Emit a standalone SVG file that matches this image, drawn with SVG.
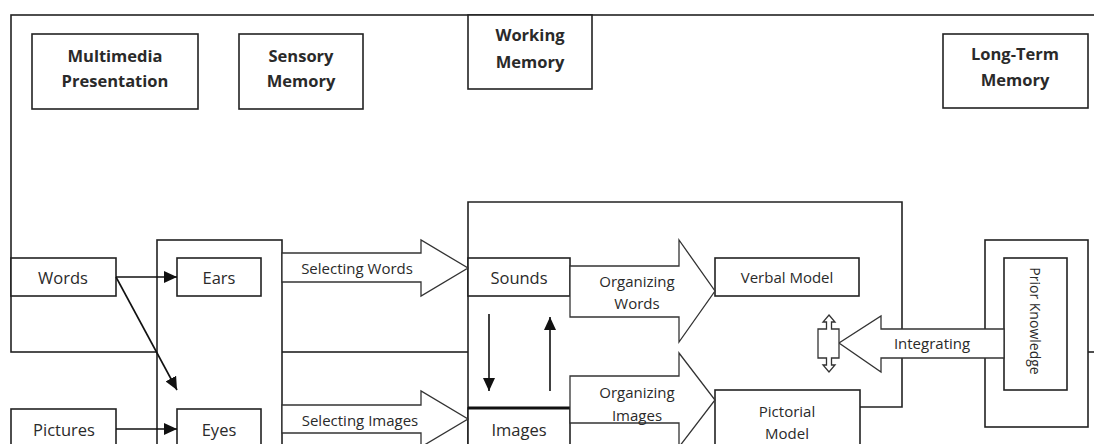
<svg xmlns="http://www.w3.org/2000/svg" width="1094" height="444" viewBox="0 0 1094 444">
<defs>
<style>
.bx{fill:#fff;stroke:#222;stroke-width:1.6}
.fr{fill:none;stroke:#222;stroke-width:1.6}
.ln{fill:none;stroke:#111;stroke-width:1.6}
.ba{fill:#fff;stroke:#333;stroke-width:1.3}
text{font-family:"Open Sans","Noto Sans","Liberation Sans",sans-serif;fill:#2a2a2a;text-anchor:middle;dominant-baseline:central}
.hd{font-weight:bold;font-size:16.5px}
.lb{font-size:16.5px}
.sm{font-size:15px}
</style>
<marker id="ah" markerUnits="userSpaceOnUse" markerWidth="13" markerHeight="12" refX="13" refY="6" orient="auto">
<path d="M0,0 L13,6 L0,12 z" fill="#111"/>
</marker>
</defs>
<rect x="0" y="0" width="1094" height="444" fill="#fff"/>

<g id="frame">
<rect class="fr" x="11" y="15" width="1100" height="337"/>
</g>

<g id="hdr-multimedia">
<rect class="bx" x="32" y="34" width="166" height="75"/>
<text class="hd" x="115" y="55">Multimedia</text>
<text class="hd" x="115" y="80">Presentation</text>
</g>
<g id="hdr-sensory">
<rect class="bx" x="239" y="34" width="124" height="75"/>
<text class="hd" x="301" y="55">Sensory</text>
<text class="hd" x="301" y="80">Memory</text>
</g>
<g id="hdr-working">
<rect class="bx" x="468" y="15" width="124" height="74"/>
<text class="hd" x="530" y="34">Working</text>
<text class="hd" x="530" y="61">Memory</text>
</g>
<g id="hdr-longterm">
<rect class="bx" x="943" y="34" width="145" height="74"/>
<text class="hd" x="1015" y="53">Long-Term</text>
<text class="hd" x="1015" y="79">Memory</text>
</g>

<g id="sensory-box">
<rect class="bx" x="157" y="240" width="125" height="220"/>
</g>
<g id="working-box">
<path class="bx" d="M468,460 L468,202 L902,202 L902,407 L860,407"/>
</g>
<g id="ltm-box">
<rect class="bx" x="985" y="240" width="103" height="187"/>
</g>

<g id="words">
<rect class="bx" x="11" y="258" width="105" height="38"/>
<text class="lb" x="63" y="277">Words</text>
</g>
<g id="pictures">
<rect class="bx" x="11" y="409" width="105" height="50"/>
<text class="lb" x="64" y="429">Pictures</text>
</g>
<g id="ears">
<rect class="bx" x="177" y="258" width="84" height="38"/>
<text class="lb" x="219" y="277">Ears</text>
</g>
<g id="eyes">
<rect class="bx" x="177" y="409" width="84" height="50"/>
<text class="lb" x="219" y="429">Eyes</text>
</g>
<g id="sounds">
<rect class="bx" x="468" y="258" width="102" height="38"/>
<text class="lb" x="519" y="277">Sounds</text>
</g>
<g id="images">
<rect class="bx" x="468" y="408" width="102" height="50"/>
<line x1="468" y1="408" x2="570" y2="408" stroke="#111" stroke-width="2.8"/>
<text class="lb" x="519" y="429">Images</text>
</g>
<g id="verbal-model">
<rect class="bx" x="715" y="258" width="144" height="38"/>
<text class="sm" x="787" y="277">Verbal Model</text>
</g>
<g id="pictorial-model">
<rect class="bx" x="715" y="390" width="145" height="70"/>
<text class="sm" x="787" y="411">Pictorial</text>
<text class="sm" x="787" y="433">Model</text>
</g>
<g id="prior-knowledge">
<rect class="bx" x="1004" y="258" width="63" height="132"/>
<text class="sm" font-size="14" style="font-size:14px" transform="translate(1035,321) rotate(90)" x="0" y="0">Prior Knowledge</text>
</g>

<g id="connectors">
<line class="ln" x1="116" y1="277" x2="177" y2="277" marker-end="url(#ah)"/>
<line class="ln" x1="116" y1="277" x2="177" y2="390" marker-end="url(#ah)"/>
<line class="ln" x1="116" y1="429" x2="177" y2="429" marker-end="url(#ah)"/>
<line class="ln" x1="489" y1="314" x2="489" y2="391" marker-end="url(#ah)"/>
<line class="ln" x1="550" y1="391" x2="550" y2="317" marker-end="url(#ah)"/>

<g id="sel-words">
<polygon class="ba" points="282,253 421,253 421,240 468,268 421,296 421,282 282,282"/>
<text class="sm" x="357" y="268">Selecting Words</text>
</g>
<g id="sel-images">
<polygon class="ba" points="282,405 421,405 421,391 468,419 421,447 421,433 282,433"/>
<text class="sm" x="360" y="420">Selecting Images</text>
</g>
<g id="org-words">
<polygon class="ba" points="570,266 679,266 679,240 715,291 679,342 679,317 570,317"/>
<text class="sm" x="637" y="281">Organizing</text>
<text class="sm" x="637" y="303">Words</text>
</g>
<g id="org-images">
<polygon class="ba" points="570,376 679,376 679,353 715,400 679,447 679,423 570,423"/>
<text class="sm" x="637" y="392">Organizing</text>
<text class="sm" x="637" y="415">Images</text>
</g>
<g id="integrating">
<polygon class="ba" points="1004,329 881,329 881,316 839,343 881,372 881,358 1004,358"/>
<text class="sm" x="932" y="343">Integrating</text>
</g>
<g id="integrate-double">
<path class="ba" d="M829,315 L835,322 L831.5,322 L831.5,329 L839,329 L839,358 L831.5,358 L831.5,365 L835,365 L829,372 L823,365 L826.5,365 L826.5,358 L818,358 L818,329 L826.5,329 L826.5,322 L823,322 Z"/>
</g>
</g>
</svg>
